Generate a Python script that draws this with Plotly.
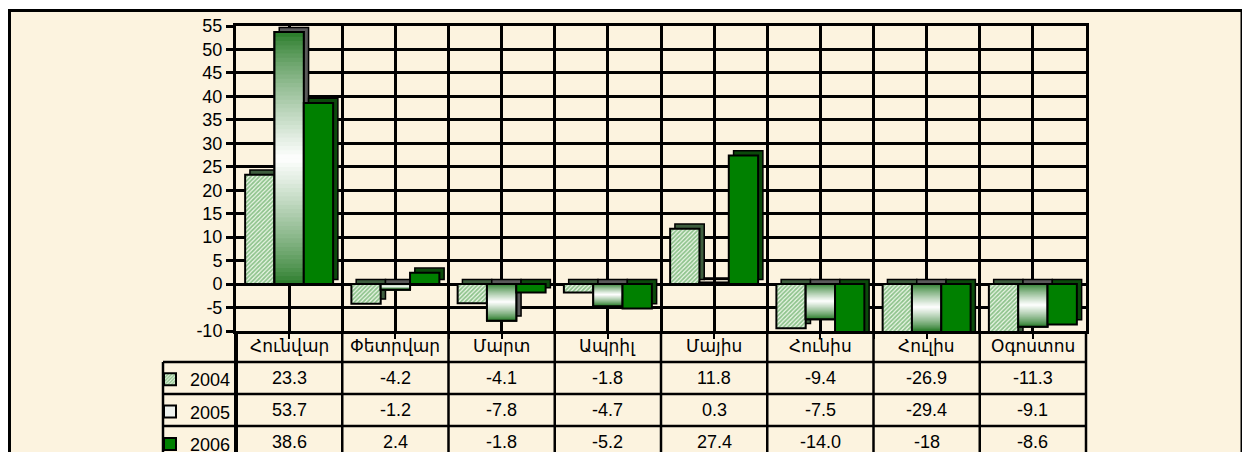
import plotly.graph_objects as go

# ---------------- data ----------------
categories = ["Հունվար", "Փետրվար", "Մարտ", "Ապրիլ", "Մայիս", "Հունիս", "Հուլիս", "Օգոստոս"]
years = ["2004", "2005", "2006"]
v2004 = [23.3, -4.2, -4.1, -1.8, 11.8, -9.4, -26.9, -11.3]
v2005 = [53.7, -1.2, -7.8, -4.7, 0.3, -7.5, -29.4, -9.1]
v2006 = [38.6, 2.4, -1.8, -5.2, 27.4, -14.0, -18, -8.6]
y_tickvals = [-10, -5, 0, 5, 10, 15, 20, 25, 30, 35, 40, 45, 50, 55]
y_ticktext = ["-10", "-5", "0", "5", "10", "15", "20", "25", "30", "35", "40", "45", "50", "55"]

# ---------------- layout constants (page pixels) ----------------
OFF = 8                                   # page body margin
FW, FH = 1250 - OFF, 452 - OFF
PL, PR, PT, PB = 236, 1086, 26, 331       # plot area
TAB_L = 163                               # table left edge
HDR_B = 362                               # header row bottom
ROW_H = 32
YMIN, YMAX = -10, 55
N = len(categories)
X = list(range(N))

BW = 0.276      # bar width (category units)
DX = 0.045      # 3D depth shift in x (category units)
DY = 1.0        # 3D depth shift in y (value units)

FONT = "Arial, 'Liberation Sans', 'DejaVu Sans', sans-serif"
BG = "#FCF3DF"
GREEN = (38, 122, 38)
WHITE = (255, 255, 255)


def px_x(p):
    return (p - OFF) / FW


def px_y(p):
    return 1 - (p - OFF) / FH


def mix(c1, c2, t):
    return "rgb(%d,%d,%d)" % tuple(round(a + (b - a) * t) for a, b in zip(c1, c2))


series = [v2004, v2005, v2006]
shadow_cols = ["#3e5e3e", "#5a5a5a", "#0b4a0b"]

fig = go.Figure()

# 3D depth (side/top faces) drawn behind
for i, vals in enumerate(series):
    fig.add_trace(go.Bar(
        x=X, y=vals, base=[DY] * N,
        offset=-1.5 * BW + i * BW + DX, width=BW,
        marker=dict(color=shadow_cols[i], line=dict(color="black", width=1.5)),
        showlegend=False, hoverinfo="skip"))

# 2004 front faces (hatched)
fig.add_trace(go.Bar(
    x=X, y=v2004, name=years[0], legendgroup=years[0],
    offset=-1.5 * BW, width=BW,
    marker=dict(color="#eef7ea",
                pattern=dict(shape="/", fgcolor="#2f8f2f", bgcolor="#eef7ea", size=3, solidity=0.6),
                line=dict(color="black", width=2))))

# 2005 front faces: base fill (legend) + gradient slices + outline
fig.add_trace(go.Bar(
    x=X, y=v2005, name=years[1], legendgroup=years[1],
    offset=-0.5 * BW, width=BW,
    marker=dict(color="#eef2ee", line=dict(color="black", width=2))))

K = 60
vis2005 = [min(max(v, YMIN), YMAX) for v in v2005]
sx, sbase, sy, scol = [], [], [], []
for j in range(K):
    t = (j + 0.5) / K
    w = (1 - abs(2 * t - 1)) ** 0.8
    col = mix(GREEN, WHITE, w)
    for i, L in enumerate(vis2005):
        sx.append(X[i])
        sbase.append(L * j / K)
        sy.append(L / K)
        scol.append(col)
fig.add_trace(go.Bar(
    x=sx, y=sy, base=sbase, offset=-0.5 * BW, width=BW,
    marker=dict(color=scol, line=dict(color=scol, width=1)),
    showlegend=False, hoverinfo="skip"))
fig.add_trace(go.Bar(
    x=X, y=v2005, offset=-0.5 * BW, width=BW,
    marker=dict(color="rgba(0,0,0,0)", line=dict(color="black", width=2)),
    showlegend=False, hoverinfo="skip"))

# 2006 front faces
fig.add_trace(go.Bar(
    x=X, y=v2006, name=years[2], legendgroup=years[2],
    offset=0.5 * BW, width=BW,
    marker=dict(color="#008000", line=dict(color="black", width=2))))

# ---------------- table (lines + text) ----------------
shapes = [dict(type="rect", xref="paper", yref="paper",
               x0=px_x(9.5), x1=px_x(1242), y0=-0.1, y1=px_y(10.5),
               fillcolor=BG, line=dict(color="black", width=3), layer="below")]
LW = 2.5
colw = (PR - PL) / N
for k in range(1, 4):
    yy = HDR_B + (k - 1) * ROW_H
    shapes.append(dict(type="line", xref="paper", yref="paper",
                       x0=px_x(TAB_L), x1=px_x(PR), y0=px_y(yy), y1=px_y(yy),
                       line=dict(color="black", width=LW)))
shapes.append(dict(type="line", xref="paper", yref="paper",
                   x0=px_x(TAB_L), x1=px_x(TAB_L), y0=px_y(HDR_B), y1=-0.1,
                   line=dict(color="black", width=LW)))
for c in range(N + 1):
    xx = PL + c * colw
    shapes.append(dict(type="line", xref="paper", yref="paper",
                       x0=px_x(xx), x1=px_x(xx), y0=px_y(PB), y1=-0.1,
                       line=dict(color="black", width=LW if c else 4)))

annotations = []
for c, name in enumerate(categories):
    annotations.append(dict(xref="paper", yref="paper", x=px_x(PL + (c + 0.5) * colw),
                            y=px_y((PB + HDR_B) / 2), text=name, showarrow=False,
                            xanchor="center", yanchor="middle",
                            font=dict(family=FONT, size=17, color="black")))
for r, vals in enumerate(series):
    yc = HDR_B + (r + 0.5) * ROW_H
    for c, v in enumerate(vals):
        annotations.append(dict(xref="paper", yref="paper", x=px_x(PL + (c + 0.5) * colw),
                                y=px_y(yc), text=str(v), showarrow=False,
                                xanchor="center", yanchor="middle",
                                font=dict(family=FONT, size=18, color="black")))

fig.update_layout(
    width=FW, height=FH,
    margin=dict(l=0, r=0, t=0, b=0, autoexpand=False),
    paper_bgcolor="white", plot_bgcolor="rgba(0,0,0,0)",
    barmode="overlay",
    font=dict(family=FONT, size=17, color="black"),
    xaxis=dict(domain=[px_x(PL), px_x(PR)], range=[-0.5, N - 0.5],
               tickmode="linear", tick0=-0.5, dtick=0.5, showticklabels=False,
               ticks="outside", ticklen=5, tickwidth=2, tickcolor="black",
               showgrid=True, gridcolor="black", gridwidth=2.5, zeroline=False,
               showline=True, linecolor="black", linewidth=3, mirror=True,
               fixedrange=True),
    yaxis=dict(domain=[px_y(PB), px_y(PT)], range=[YMIN, YMAX],
               tickmode="array", tickvals=y_tickvals, ticktext=y_ticktext,
               ticks="outside", ticklen=7, tickwidth=3, tickcolor="black",
               tickfont=dict(family=FONT, size=18, color="black"),
               showgrid=True, gridcolor="black", gridwidth=2.5, zeroline=False,
               showline=True, linecolor="black", linewidth=3, mirror=True,
               fixedrange=True),
    legend=dict(x=px_x(150), xanchor="left", y=px_y(361), yanchor="top",
                bgcolor="rgba(0,0,0,0)", borderwidth=0, tracegroupgap=6,
                font=dict(family=FONT, size=18, color="black"),
                itemwidth=30, valign="middle"),
    shapes=shapes,
    annotations=annotations,
)

fig.write_html("out.html")
